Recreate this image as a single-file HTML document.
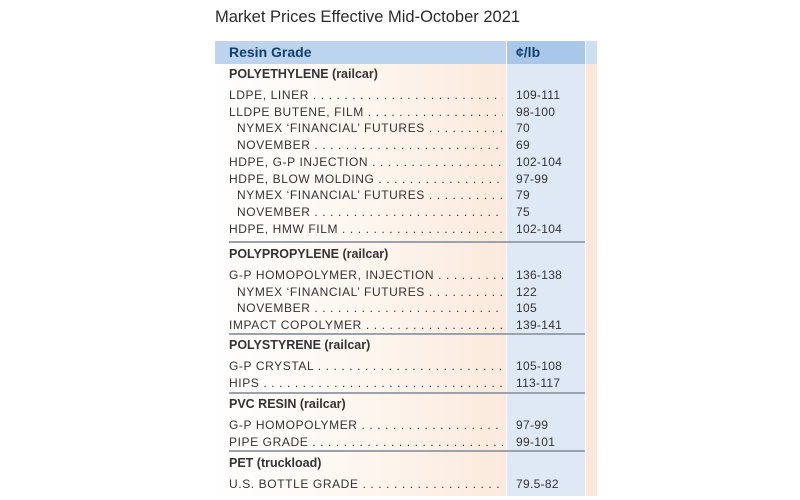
<!DOCTYPE html>
<html><head><meta charset="utf-8"><style>
body{margin:0;width:800px;height:500px;background:#fff;position:relative;overflow:hidden;font-family:"Liberation Sans",sans-serif;}
.title{position:absolute;left:215px;top:8px;font-size:16.5px;color:#2b2b2b;}
.left-bg{position:absolute;left:215px;top:64px;width:291px;height:432px;background:linear-gradient(90deg,#fff 0%,#fdf5ee 55%,#fbe9dc 100%);}
.price-bg{position:absolute;left:507px;top:41px;width:78px;height:455px;background:#dfe8f5;}
.strip{position:absolute;left:586px;top:41px;width:11px;height:455px;background:#fbe8db;}
.header{position:absolute;left:215px;top:41px;width:291px;height:23px;background:#bcd4ee;}
.header2{position:absolute;left:507px;top:41px;width:78px;height:23px;background:#a9c7e8;}
.header3{position:absolute;left:586px;top:41px;width:11px;height:23px;background:#cddff2;}
.htxt{position:absolute;top:44px;font-size:14px;font-weight:bold;color:#123f6e;}
.row{position:absolute;left:229px;width:355px;height:16px;font-size:12px;color:#333;line-height:16px;}
.lab{position:absolute;left:0;width:274px;overflow:hidden;white-space:nowrap;letter-spacing:0.6px;}
.lab.ind{left:8px;width:266px;}
.val{position:absolute;left:287px;letter-spacing:0.3px;}
.sec{position:absolute;left:229px;font-size:12.5px;font-weight:bold;color:#333;}
.div{position:absolute;left:229px;width:356px;height:1.5px;background:#9aa3ad;}
</style></head><body>
<div class="title">Market Prices Effective Mid-October 2021</div>
<div class="left-bg"></div>
<div class="price-bg"></div>
<div class="strip"></div>
<div class="header"></div>
<div class="header2"></div>
<div class="header3"></div>
<div class="htxt" style="left:229px">Resin Grade</div>
<div class="htxt" style="left:516px">¢/lb</div>
<div id="rows"></div>
<script>
const sections=[
 {name:"POLYETHYLENE (railcar)",top:67,items:[["LDPE, LINER","109-111",0],["LLDPE BUTENE, FILM","98-100",0],["NYMEX ‘FINANCIAL’ FUTURES","70",1],["NOVEMBER","69",1],["HDPE, G-P INJECTION","102-104",0],["HDPE, BLOW MOLDING","97-99",0],["NYMEX ‘FINANCIAL’ FUTURES","79",1],["NOVEMBER","75",1],["HDPE, HMW FILM","102-104",0]]},
 {name:"POLYPROPYLENE (railcar)",top:247,items:[["G-P HOMOPOLYMER, INJECTION","136-138",0],["NYMEX ‘FINANCIAL’ FUTURES","122",1],["NOVEMBER","105",1],["IMPACT COPOLYMER","139-141",0]]},
 {name:"POLYSTYRENE (railcar)",top:338,items:[["G-P CRYSTAL","105-108",0],["HIPS","113-117",0]]},
 {name:"PVC RESIN (railcar)",top:397,items:[["G-P HOMOPOLYMER","97-99",0],["PIPE GRADE","99-101",0]]},
 {name:"PET (truckload)",top:456,items:[["U.S. BOTTLE GRADE","79.5-82",0]]}
];
const dividers=[241,333,392,450];
const root=document.getElementById('rows');
const dots=" "+". ".repeat(80);
sections.forEach(s=>{
 const h=document.createElement('div');h.className='sec';h.style.top=s.top+'px';
 h.textContent=s.name;
 
 
 root.appendChild(h);
 s.items.forEach((it,i)=>{
  const r=document.createElement('div');r.className='row';r.style.top=(s.top+20+i*16.7)+'px';
  
  
  r.innerHTML='<div class="lab'+(it[2]?' ind':'')+'">'+it[0]+dots+'</div><div class="val">'+it[1]+'</div>';
  root.appendChild(r);
 });
});
dividers.forEach(y=>{
 const d=document.createElement('div');d.className='div';d.style.top=y+'px';
 
 
 root.appendChild(d);
});
</script>
</body></html>
